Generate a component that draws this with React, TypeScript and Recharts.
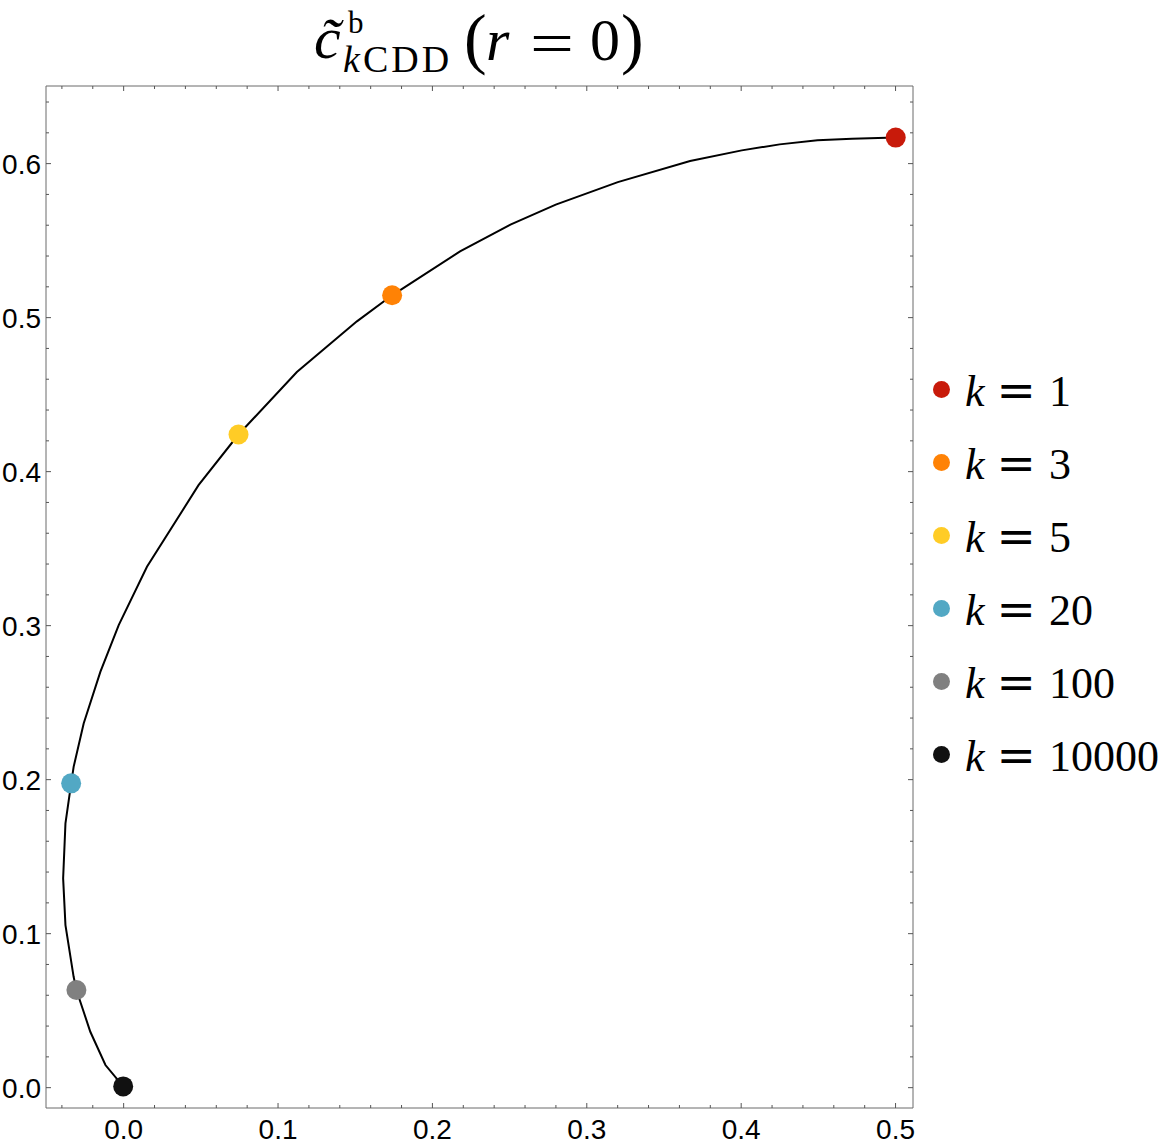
import React from 'react';
import { ScatterChart, Scatter, XAxis, YAxis } from 'recharts';

// curve traced from k = 10000 (origin) up to k = 1
const curveX = [
  -0.0003, -0.0118, -0.0216, -0.0306, -0.0324, -0.0377, -0.0392, -0.0377, -0.034, -0.0324,
  -0.0259, -0.0151, -0.0032, 0.0151, 0.0485, 0.0744, 0.1122, 0.1511, 0.1739, 0.2179,
  0.2509, 0.2799, 0.3201, 0.3669, 0.4004, 0.4249, 0.4494, 0.4718, 0.5001,
];
const curveY = [
  0.0008, 0.0147, 0.0363, 0.0634, 0.072, 0.1056, 0.1359, 0.1716, 0.1976, 0.2083,
  0.2365, 0.27, 0.3003, 0.3382, 0.3912, 0.4241, 0.4647, 0.4976, 0.5145, 0.543,
  0.5606, 0.5734, 0.588, 0.6017, 0.6086, 0.6125, 0.6151, 0.6162, 0.6169,
];

// highlighted k values
const kValues = [1, 3, 5, 20, 100, 10000];
const pointX = [0.5001, 0.1739, 0.0744, -0.034, -0.0306, -0.0003];
const pointY = [0.6169, 0.5145, 0.4241, 0.1976, 0.0634, 0.0008];
const pointColors = ['#c81a0a', '#ff8205', '#ffcc26', '#52a8c4', '#808080', '#111111'];

const xTicks = [
  -0.04, -0.02, 0, 0.02, 0.04, 0.06, 0.08, 0.1, 0.12, 0.14, 0.16, 0.18, 0.2, 0.22,
  0.24, 0.26, 0.28, 0.3, 0.32, 0.34, 0.36, 0.38, 0.4, 0.42, 0.44, 0.46, 0.48, 0.5,
];
const yTicks = [
  0, 0.02, 0.04, 0.06, 0.08, 0.1, 0.12, 0.14, 0.16, 0.18, 0.2, 0.22, 0.24, 0.26, 0.28,
  0.3, 0.32, 0.34, 0.36, 0.38, 0.4, 0.42, 0.44, 0.46, 0.48, 0.5, 0.52, 0.54, 0.56,
  0.58, 0.6, 0.62, 0.64,
];
const xDomain = [-0.0503, 0.5113];
const yDomain = [-0.0132, 0.6504];

const curve = curveX.map((x, i) => ({ x, y: curveY[i] }));

const TICK = '#555';
const FRAME = '#6a6a6a';
const LABEL_FONT = '"Liberation Sans", Arial, sans-serif';
const SERIF = '"Liberation Serif", "Times New Roman", serif';
const EQ_FONT = '"DejaVu Sans", sans-serif';

const isMajor = (v: number) => Math.abs(v * 10 - Math.round(v * 10)) < 1e-6;

function BottomTick({ x, y, payload }: any) {
  const major = isMajor(payload.value);
  return (
    <g>
      <line x1={x} x2={x} y1={y} y2={y - (major ? 5 : 3)} stroke={TICK} />
      {major && (
        <text x={x} y={y + 31} textAnchor="middle" fontSize={28} fontFamily={LABEL_FONT} fill="#000">
          {payload.value.toFixed(1)}
        </text>
      )}
    </g>
  );
}

function TopTick({ x, y, payload }: any) {
  const major = isMajor(payload.value);
  return <line x1={x} x2={x} y1={y} y2={y + (major ? 5 : 3)} stroke={TICK} />;
}

function LeftTick({ x, y, payload }: any) {
  const major = isMajor(payload.value);
  return (
    <g>
      <line x1={x} x2={x + (major ? 5 : 3)} y1={y} y2={y} stroke={TICK} />
      {major && (
        <text x={x - 5} y={y + 10} textAnchor="end" fontSize={28} fontFamily={LABEL_FONT} fill="#000">
          {payload.value.toFixed(1)}
        </text>
      )}
    </g>
  );
}

function RightTick({ x, y, payload }: any) {
  const major = isMajor(payload.value);
  return <line x1={x} x2={x - (major ? 5 : 3)} y1={y} y2={y} stroke={TICK} />;
}

const Dot = (props: any) => <circle cx={props.cx} cy={props.cy} r={10} fill={props.fill} />;
const NoDot = () => <g />;

function KLegend() {
  return (
    <div style={{ position: 'absolute', left: 930, top: 353, width: 240 }}>
      {kValues.map((k, i) => (
        <div
          key={k}
          style={{ height: 73, display: 'flex', alignItems: 'center', fontFamily: SERIF, fontSize: 44, color: '#000' }}
        >
          <span
            style={{
              width: 17,
              height: 17,
              borderRadius: '50%',
              background: pointColors[i],
              marginLeft: 3,
              marginRight: 15,
              flex: 'none',
            }}
          />
          <span style={{ display: 'flex', alignItems: 'baseline', lineHeight: 1, whiteSpace: 'nowrap' }}>
            <i>k</i>
            <span style={{ fontFamily: EQ_FONT, fontSize: 47, marginLeft: 12, marginRight: 13 }}>=</span>
            <span>{k}</span>
          </span>
        </div>
      ))}
    </div>
  );
}

// title pieces, each placed with lineHeight 1 (baseline ~0.84em below top)
const piece = (left: number, top: number, size: number, extra: any = {}) => ({
  position: 'absolute' as const,
  left,
  top,
  fontSize: size,
  lineHeight: 1,
  whiteSpace: 'nowrap' as const,
  ...extra,
});

function Title() {
  return (
    <div style={{ position: 'absolute', left: 0, top: 0, fontFamily: SERIF, color: '#000' }}>
      <i style={piece(314, 8, 60)}>{'c\u0303'}</i>
      <span style={piece(348, 7, 31)}>b</span>
      <span style={piece(343, 40, 38, { letterSpacing: 3 })}>
        <i>k</i>CDD
      </span>
      <span style={piece(464, 4, 68)}>(</span>
      <i style={piece(486, 10, 60)}>r</i>
      <span style={piece(530, 13, 60, { display: 'inline-block', transform: 'scaleX(1.3)', transformOrigin: 'left' })}>=</span>
      <span style={piece(590, 10, 60)}>0</span>
      <span style={piece(621, 4, 68)}>)</span>
    </div>
  );
}

export default function App() {
  return (
    <div style={{ position: 'absolute', left: 0, top: 0, width: 1170, height: 1148, background: '#fff' }}>
      <ScatterChart width={1170} height={1148} margin={{ top: 85, right: 256, bottom: 39, left: 45 }}>
        <XAxis
          type="number"
          dataKey="x"
          domain={xDomain}
          allowDataOverflow
          ticks={xTicks}
          interval={0}
          height={1}
          tickSize={0}
          tickMargin={0}
          tickLine={false}
          axisLine={{ stroke: FRAME }}
          tick={<BottomTick />}
        />
        <XAxis
          xAxisId="top"
          orientation="top"
          type="number"
          dataKey="x"
          domain={xDomain}
          allowDataOverflow
          ticks={xTicks}
          interval={0}
          height={1}
          tickSize={0}
          tickMargin={0}
          tickLine={false}
          axisLine={{ stroke: FRAME }}
          tick={<TopTick />}
        />
        <YAxis
          type="number"
          dataKey="y"
          domain={yDomain}
          allowDataOverflow
          ticks={yTicks}
          interval={0}
          width={1}
          tickSize={0}
          tickMargin={0}
          tickLine={false}
          axisLine={{ stroke: FRAME }}
          tick={<LeftTick />}
        />
        <YAxis
          yAxisId="right"
          orientation="right"
          type="number"
          dataKey="y"
          domain={yDomain}
          allowDataOverflow
          ticks={yTicks}
          interval={0}
          width={1}
          tickSize={0}
          tickMargin={0}
          tickLine={false}
          axisLine={{ stroke: FRAME }}
          tick={<RightTick />}
        />
        <Scatter
          data={curve}
          line={{ stroke: '#000', strokeWidth: 2 }}
          lineJointType="linear"
          shape={NoDot}
          legendType="none"
          isAnimationActive={false}
        />
        {kValues.map((k, i) => (
          <Scatter
            key={k}
            name={`k = ${k}`}
            data={[{ x: pointX[i], y: pointY[i] }]}
            fill={pointColors[i]}
            shape={Dot}
            isAnimationActive={false}
          />
        ))}
      </ScatterChart>
      <Title />
      <KLegend />
    </div>
  );
}
